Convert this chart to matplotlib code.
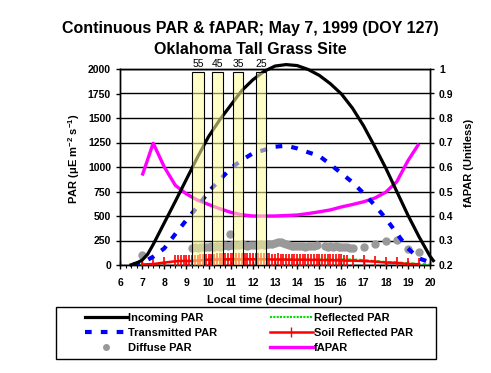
import matplotlib
matplotlib.use("Agg")
import matplotlib.pyplot as plt
from matplotlib.lines import Line2D
from matplotlib.patches import Rectangle

plt.rcParams['font.family'] = ['Liberation Sans', 'DejaVu Sans']
plt.rcParams['mathtext.fontset'] = 'custom'
plt.rcParams['mathtext.rm'] = 'Liberation Sans'
plt.rcParams['mathtext.bf'] = 'Liberation Sans:bold'
plt.rcParams['mathtext.default'] = 'bf'

# ---------------- data ----------------
t_in = [6.5, 6.75, 7.0, 7.25, 7.5, 8.0, 8.5, 9.0, 9.5, 10.0, 10.5, 11.0, 11.5, 12.0,
        12.5, 13.0, 13.5, 14.0, 14.5, 15.0, 15.5, 16.0, 16.5, 17.0, 17.5, 18.0, 18.5,
        19.0, 19.5, 20.0, 20.15]
par_in = [2, 20, 50, 110, 210, 430, 650, 875, 1100, 1310, 1480, 1630, 1780, 1890,
          1975, 2030, 2045, 2035, 1995, 1935, 1850, 1745, 1600, 1420, 1210, 990, 750,
          510, 290, 90, 45]

t_tr = [6.6, 7.1, 7.5, 8.0, 8.5, 9.0, 9.5, 10.0, 10.5, 11.0, 11.5, 12.0, 12.5, 13.0,
        13.5, 14.0, 14.5, 15.0, 15.5, 16.0, 16.5, 17.0, 17.5, 18.0, 18.5, 19.0, 19.5, 20.0]
par_tr = [7, 34, 85, 170, 316, 459, 595, 748, 867, 986, 1071, 1139, 1173, 1207,
          1217, 1190, 1150, 1112, 1027, 935, 844, 731, 612, 476, 323, 170, 68, 27]

t_fa = [7.0, 7.5, 8.0, 8.5, 9.0, 9.5, 10.0, 10.5, 11.0, 11.5, 12.0, 12.5, 13.0, 13.5,
        14.0, 14.5, 15.0, 15.5, 16.0, 16.5, 17.0, 17.5, 18.0, 18.5, 19.0, 19.5]
fapar = [0.565, 0.697, 0.60, 0.525, 0.49, 0.465, 0.447, 0.43, 0.415, 0.405, 0.40, 0.40,
         0.40, 0.402, 0.404, 0.41, 0.417, 0.425, 0.437, 0.447, 0.458, 0.473, 0.497,
         0.54, 0.625, 0.695]

t_dif = [7.0, 9.25, 9.375, 9.5, 9.625, 9.75, 9.875, 10.0, 10.125, 10.25, 10.375, 10.5,
         10.625, 10.75, 10.875, 10.95, 11.0, 11.125, 11.25, 11.375, 11.5, 11.625, 11.75,
         11.875, 12.0, 12.125, 12.25, 12.375, 12.5, 12.625, 12.75, 12.875, 13.0, 13.125,
         13.25, 13.375, 13.5, 13.625, 13.75, 13.875, 14.0, 14.125, 14.25, 14.375, 14.5,
         14.625, 14.75, 14.875, 15.25, 15.375, 15.5, 15.625, 15.75, 15.875, 16.0, 16.125,
         16.25, 16.375, 16.5, 17.0, 17.5, 18.0, 18.5, 19.0, 19.5]
par_dif = [105, 178, 182, 176, 185, 180, 188, 183, 190, 186, 192, 188,
           195, 200, 196, 320, 205, 200, 208, 203, 210, 204, 198,
           206, 201, 209, 204, 212, 207, 215, 210, 218, 222, 232,
           238, 226, 212, 205, 198, 192, 196, 190, 194, 188, 195,
           191, 198, 203, 190, 186, 192, 185, 189, 183, 187, 181,
           185, 178, 175, 187, 214, 248, 258, 163, 136]

t_ref = [6.9, 7.5, 8.0, 8.5, 9.0, 9.5, 10.0, 11.0, 12.0, 13.0, 14.0, 15.0, 16.0, 16.5,
         17.0, 17.5, 18.0, 18.5, 19.0, 19.5, 20.0, 20.2]
par_ref = [2, 6, 18, 35, 42, 45, 48, 52, 55, 57, 58, 58, 58, 57, 52, 42, 32, 28, 20,
           12, 7, 5]

t_soil = [7.0, 7.5, 8.0,
          8.5, 8.625, 8.75, 8.875, 9.0, 9.125, 9.25, 9.375, 9.5,
          9.625, 9.75, 9.875, 10.0, 10.125, 10.25, 10.375, 10.5,
          10.625, 10.75, 10.875, 11.0, 11.125, 11.25, 11.375, 11.5, 11.625, 11.75,
          11.875, 12.0, 12.125, 12.25, 12.375, 12.5, 12.625, 12.75,
          12.875, 13.0, 13.125, 13.25, 13.375, 13.5, 13.625, 13.75, 13.875, 14.0,
          14.125, 14.25, 14.375, 14.5, 14.625, 14.75, 14.875, 15.0, 15.125, 15.25,
          15.375, 15.5, 15.625, 15.75, 15.875, 16.0, 16.125, 16.25,
          16.5, 17.0, 17.5, 18.0, 18.5, 19.0, 19.5]
par_soil = [5, 10, 25,
            38, 40, 42, 41, 43, 40, 42, 44, 45,
            48, 50, 52, 55, 54, 56, 57, 58,
            58, 57, 59, 58, 60, 59, 58, 57, 59, 60,
            58, 59, 57, 58, 60, 59, 58, 57,
            56, 55, 57, 54, 56, 55, 53, 55, 54, 52,
            54, 53, 55, 52, 51, 53, 52, 50, 51, 49,
            50, 48, 49, 47, 46, 48, 45, 44,
            45, 40, 35, 25, 22, 10, 8]

bar_time = [9.54, 10.42, 11.33, 12.38]
bar_width = [0.54, 0.5, 0.42, 0.44]
bar_height = [1965, 1965, 1965, 1965]
bar_labels = ["55", "45", "35", "25"]

# ---------------- figure ----------------
W, H = 491, 373
fig = plt.figure(figsize=(W / 100, H / 100), dpi=100)
ax = fig.add_axes([120 / W, 1 - 265 / H, 310 / W, 196 / H])
ax2 = ax.twinx()
ax.set_zorder(ax2.get_zorder() + 1)
ax.patch.set_visible(False)

ax.set_xlim(6, 20)
ax.set_ylim(0, 2000)
ax2.set_ylim(0.2, 1.0)

# grid drawn on the back axes
ax2.set_xticks(range(6, 21))
ax2.set_yticks([0.2 + 0.1 * i for i in range(9)])
ax2.grid(True, color='black', linewidth=1.0, zorder=0)
ax2.set_axisbelow(True)

ax2.plot(t_fa, fapar, color='#FF00FF', linewidth=2.4, zorder=3, solid_capstyle='butt')

ax.plot(t_ref, par_ref, color='#00DD00', linewidth=1.3, linestyle=(0, (2, 1.2)), zorder=2)
ax.plot(t_soil, par_soil, color='red', linewidth=1.8, marker='|', markersize=8,
        markeredgewidth=1.2, zorder=3)
ax.plot(t_dif, par_dif, linestyle='none', marker='o', markersize=5,
        color='#999999', markeredgecolor='#999999', zorder=3)
ax.plot(t_tr, par_tr, color='#0000FF', linewidth=3, linestyle=(0, (1.6, 2.2)), zorder=4,
        dash_capstyle='butt')
line_in, = ax.plot(t_in, par_in, color='black', linewidth=2.3, zorder=5)
line_in.set_clip_on(False)

ax.bar(bar_time, bar_height, width=bar_width, facecolor='#FFFF99', alpha=0.55,
       edgecolor='none', zorder=6)
ax.bar(bar_time, bar_height, width=bar_width, facecolor='none',
       edgecolor='black', linewidth=0.8, zorder=7)
for x, lab in zip(bar_time, bar_labels):
    ax.text(x, 2000, lab, ha='center', va='bottom', fontsize=7.5, clip_on=False)

# ticks
ax.set_xticks(range(6, 21))
ax.set_xticks([6 + 0.25 * i for i in range(57)], minor=True)
ax.set_yticks(range(0, 2001, 250))
ax.tick_params(axis='x', which='major', direction='inout', length=6, width=1,
               labelsize=7.5, pad=6)
ax.tick_params(axis='x', which='minor', direction='out', length=2.5, width=0.8)
ax.tick_params(axis='y', direction='out', length=3, width=1, labelsize=7.5)
for lab in ax.get_xticklabels() + ax.get_yticklabels():
    lab.set_fontweight('bold')
ax2.set_yticklabels(["0.2", "0.3", "0.4", "0.5", "0.6", "0.7", "0.8", "0.9", "1"],
                    fontweight='bold')
ax2.tick_params(axis='y', direction='out', length=3, width=1, labelsize=7.5)
ax2.tick_params(axis='x', length=0, labelbottom=False)
for a in (ax, ax2):
    for s in a.spines.values():
        s.set_color('black')
        s.set_linewidth(1)

ax.set_xlabel("Local time (decimal hour)", fontsize=8, fontweight='bold')
ax.xaxis.set_label_coords(0.498, -0.153)
ax.set_ylabel("PAR (μE m$^{-2}$ s$^{-1}$)", fontsize=8, fontweight='bold')
ax.yaxis.set_label_coords(-0.123, 0.54)
ax2.set_ylabel("fAPAR (Unitless)", fontsize=8, fontweight='bold')
ax2.yaxis.set_label_coords(1.11, 0.523)

fig.text(250 / W, 1 - 29 / H, "Continuous PAR & fAPAR; May 7, 1999 (DOY 127)",
         ha='center', va='center', fontsize=11.5, fontweight='bold')
fig.text(250 / W, 1 - 49 / H, "Oklahoma Tall Grass Site",
         ha='center', va='center', fontsize=11.5, fontweight='bold')

# legend
handles = [
    Line2D([], [], color='black', linewidth=2.3),
    Line2D([], [], color='#0000FF', linewidth=3, linestyle=(0, (1.6, 2.2))),
    Line2D([], [], linestyle='none', marker='o', markersize=4, color='#999999'),
    Line2D([], [], color='#00DD00', linewidth=1.5, linestyle=(0, (1, 0.6))),
    Line2D([], [], color='red', linewidth=1.8, marker='|', markersize=7),
    Line2D([], [], color='#FF00FF', linewidth=2.4),
]
labels = ["Incoming PAR", "Transmitted PAR", "Diffuse PAR",
          "Reflected PAR", "Soil Reflected PAR", "fAPAR"]
leg = fig.legend(handles, labels, ncol=2, frameon=False, loc='upper left',
                 bbox_to_anchor=(79 / W, 1 - 307 / H), borderpad=0,
                 handlelength=3.8, handletextpad=0.1, columnspacing=4.8,
                 labelspacing=0.45, prop={'weight': 'bold', 'size': 8})
fig.add_artist(Rectangle((56 / W, 1 - 359 / H), 380 / W, 52 / H,
                         transform=fig.transFigure, facecolor='none',
                         edgecolor='black', linewidth=1))

fig.savefig("out.png", dpi=100)
